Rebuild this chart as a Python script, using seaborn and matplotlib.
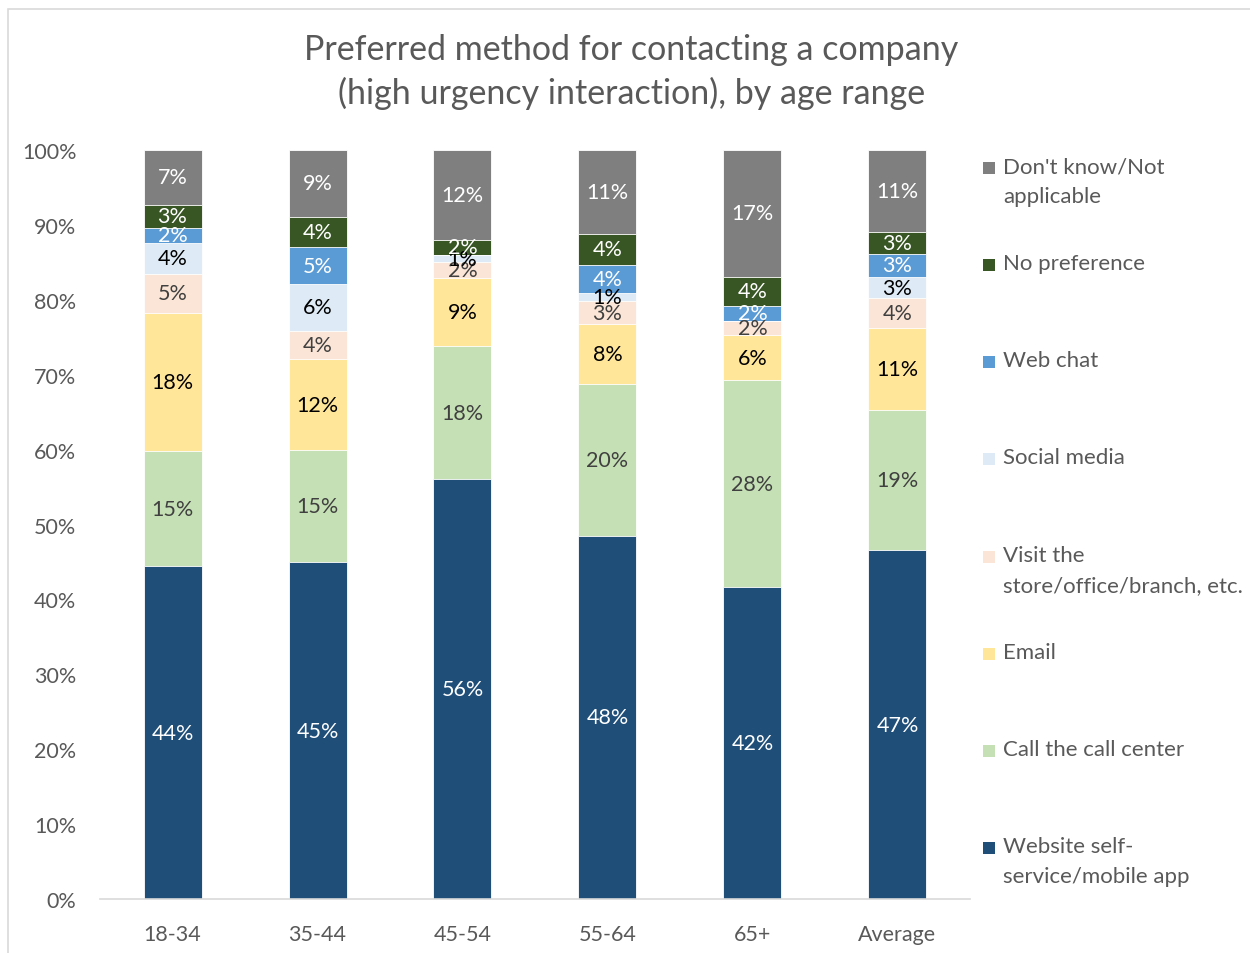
import numpy as np
import pandas as pd
import matplotlib
matplotlib.use('Agg')
import matplotlib.pyplot as plt
from matplotlib.patches import Rectangle
from matplotlib.ticker import PercentFormatter
import seaborn as sns

# DATA (shares in %)
age_groups = ['18-34', '35-44', '45-54', '55-64', '65+', 'Average']
series = ['Website self-\nservice/mobile app', 'Call the call center', 'Email',
          'Visit the\nstore/office/branch, etc.', 'Social media', 'Web chat',
          'No preference', "Don't know/Not\napplicable"]
website = [44.4, 45.0, 56.1, 48.5, 41.6, 46.6]
call_center = [15.4, 14.9, 17.7, 20.3, 27.7, 18.7]
email = [18.5, 12.2, 9.1, 8.0, 6.0, 10.9]
visit = [5.2, 3.8, 2.1, 3.0, 1.9, 4.0]
social = [4.1, 6.2, 1.0, 1.1, 0.0, 2.9]
web_chat = [2.0, 4.9, 0.0, 3.8, 2.0, 3.0]
no_pref = [3.1, 4.1, 2.0, 4.1, 3.9, 2.9]
dont_know = [7.3, 8.9, 12.0, 11.2, 16.9, 11.0]

colors = ['#1F4E79', '#C5E0B4', '#FFE699', '#FBE5D6', '#DEEBF7', '#5B9BD5', '#375623', '#7F7F7F']
label_colors = ['white', '#404040', 'black', '#404040', 'black', 'white', 'white', 'white']

values = np.array([website, call_center, email, visit, social, web_chat, no_pref, dont_know]) / 100
cum = values.cumsum(axis=0)

sns.set_style('white')
plt.rcParams['font.family'] = ['Lato', 'DejaVu Sans']

fig = plt.figure(figsize=(12.5, 9.54), dpi=100)
ax = fig.add_axes([0.08, 0.0566, 0.696, 0.785])

# stacked bars: draw cumulative totals from the top layer down
for i in range(len(series) - 1, -1, -1):
    df = pd.DataFrame({'Age': age_groups, 'Share': cum[i]})
    sns.barplot(data=df, x='Age', y='Share', order=age_groups, color=colors[i],
                width=0.4, saturation=1, ax=ax, edgecolor='white', linewidth=0.6)

# segment labels
for i in range(len(series)):
    for j in range(len(age_groups)):
        v = values[i, j]
        if v <= 0:
            continue
        ymid = cum[i, j] - v / 2
        ax.text(j, ymid, f'{round(v * 100):.0f}%', ha='center', va='center',
                fontsize=15.5, color=label_colors[i])

ax.set_xlim(-0.5, 5.5)
ax.set_ylim(0, 1)
ax.set_yticks(np.arange(0, 1.01, 0.1))
ax.yaxis.set_major_formatter(PercentFormatter(1.0, decimals=0))
ax.set_xlabel('')
ax.set_ylabel('')
ax.tick_params(axis='both', length=0, labelsize=15.5, labelcolor='#595959')
ax.tick_params(axis='y', pad=17)
ax.tick_params(axis='x', pad=18)
for s in ['left', 'right', 'top']:
    ax.spines[s].set_visible(False)
ax.spines['bottom'].set_color('#D9D9D9')
ax.spines['bottom'].set_linewidth(1.2)

fig.text(0.505, 0.948, 'Preferred method for contacting a company',
         ha='center', va='center', fontsize=24.5, color='#595959')
fig.text(0.505, 0.902, '(high urgency interaction), by age range',
         ha='center', va='center', fontsize=24.5, color='#595959')

# legend, top entry first
legend_y = [169, 266, 363, 460, 558, 655, 752, 849]
for k, i in enumerate(range(len(series) - 1, -1, -1)):
    ypx = legend_y[k]
    fig.patches.append(Rectangle((983 / 1250, 1 - (ypx + 6) / 954), 12 / 1250, 12 / 954,
                                 transform=fig.transFigure, facecolor=colors[i],
                                 edgecolor='none'))
    fig.text(1003 / 1250, 1 - (ypx - 12) / 954, series[i], ha='left', va='top',
             fontsize=16, color='#595959', linespacing=1.6)

# chart border
fig.patches.append(Rectangle((8 / 1250, -0.1), 1.2, 1.1 - 10 / 954, transform=fig.transFigure,
                             facecolor='none', edgecolor='#D9D9D9', linewidth=1.2))

fig.savefig('out.png', dpi=100)
